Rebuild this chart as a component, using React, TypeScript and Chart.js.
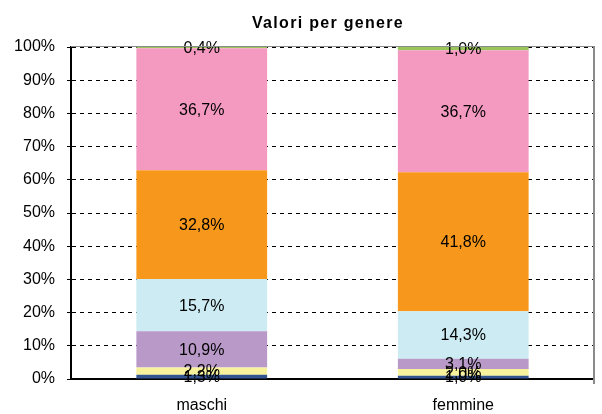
import React, { useEffect, useRef } from "react";
import { Chart, registerables } from "chart.js";

Chart.register(...registerables);

const TITLE = "Valori per genere";
const CATEGORIES = ["maschi", "femmine"];
const SERIES_NAMES = ["Serie 1", "Serie 2", "Serie 3", "Serie 4", "Serie 5", "Serie 6", "Serie 7"];
const SERIES_COLORS = ["#33558F", "#F8F29C", "#B899C8", "#CCEBF2", "#F7981D", "#F49AC1", "#99C55A"];
const VALUES_MASCHI = [1.3, 2.2, 10.9, 15.7, 32.8, 36.7, 0.4];
const VALUES_FEMMINE = [1.0, 2.0, 3.1, 14.3, 41.8, 36.7, 1.0];
const Y_TICKS = [0, 10, 20, 30, 40, 50, 60, 70, 80, 90, 100];

const FONT = "'Liberation Sans', Arial, sans-serif";

const fmt = (v: number) => v.toFixed(1).replace(".", ",") + "%";
const sum = (a: number[]) => a.reduce((s, v) => s + v, 0);
const TOTALS = [sum(VALUES_MASCHI), sum(VALUES_FEMMINE)];
const RAW = [VALUES_MASCHI, VALUES_FEMMINE];

const labelsPlugin = {
  id: "segLabels",
  afterDatasetsDraw(chart: any) {
    const ctx = chart.ctx;
    ctx.save();
    ctx.font = `16px ${FONT}`;
    ctx.fillStyle = "#000";
    ctx.textAlign = "center";
    ctx.textBaseline = "middle";
    chart.data.datasets.forEach((ds: any, di: number) => {
      const meta = chart.getDatasetMeta(di);
      meta.data.forEach((el: any, i: number) => {
        const v = RAW[i][di];
        const y = (el.y + el.base) / 2;
        ctx.fillText(fmt(v), el.x, y + 1);
      });
    });
    ctx.restore();
  },
};

const framePlugin = {
  id: "frame",
  afterDraw(chart: any) {
    const ctx = chart.ctx;
    const a = chart.chartArea;
    ctx.save();
    ctx.strokeStyle = "#8a8a8a";
    ctx.lineWidth = 1;
    ctx.beginPath();
    ctx.moveTo(a.left, a.top - 0.5);
    ctx.lineTo(a.right, a.top - 0.5);
    ctx.stroke();
    ctx.lineWidth = 2;
    ctx.beginPath();
    ctx.moveTo(a.right, a.top - 1);
    ctx.lineTo(a.right, a.bottom + 5);
    ctx.stroke();
    ctx.font = `bold 16px ${FONT}`;
    (ctx as any).letterSpacing = "1.3px";
    ctx.fillStyle = "#000";
    ctx.textAlign = "center";
    ctx.textBaseline = "alphabetic";
    ctx.fillText(TITLE, 328, 28);
    ctx.restore();
  },
};

export default function App() {
  const ref = useRef<HTMLCanvasElement>(null);
  useEffect(() => {
    if (!ref.current) return;
    const series = SERIES_NAMES.map((name, k) => ({
      label: name,
      data: RAW.map((vals, i) => (vals[k] / TOTALS[i]) * 100),
      backgroundColor: SERIES_COLORS[k],
      borderWidth: 0,
      categoryPercentage: 1,
      barPercentage: 0.5,
    }));
    const chart = new Chart(ref.current, {
      type: "bar",
      data: { labels: CATEGORIES, datasets: series },
      options: {
        responsive: false,
        animation: false,
        layout: { padding: { top: 47, right: 8, bottom: 0, left: 0 } },
        plugins: { legend: { display: false }, title: { display: false }, tooltip: { enabled: false } },
        scales: {
          x: {
            stacked: true,
            grid: { display: false, drawTicks: false },
            border: { display: true, color: "#000", width: 2 },
            ticks: { color: "#000", font: { family: FONT, size: 16 }, padding: 17 },
            afterFit: (s: any) => { s.height = 35; },
          },
          y: {
            stacked: true,
            min: 0,
            max: 100,
            afterBuildTicks: (s: any) => { s.ticks = Y_TICKS.map((v) => ({ value: v })); },
            grid: { color: "#000", lineWidth: 1, tickLength: 4, drawTicks: true },
            border: { display: true, color: "#000", width: 2, dash: [4, 4] },
            ticks: {
              color: "#000",
              font: { family: FONT, size: 16 },
              padding: 12,
              callback: (v: any) => v + "%",
            },
            afterFit: (s: any) => { s.width = 71; },
          },
        },
      },
      plugins: [labelsPlugin, framePlugin],
    });
    return () => chart.destroy();
  }, []);
  return (
    <div style={{ position: "fixed", left: 0, top: 0, width: 602, height: 414, background: "#fff" }}>
      <canvas ref={ref} width={602} height={414} />
    </div>
  );
}
